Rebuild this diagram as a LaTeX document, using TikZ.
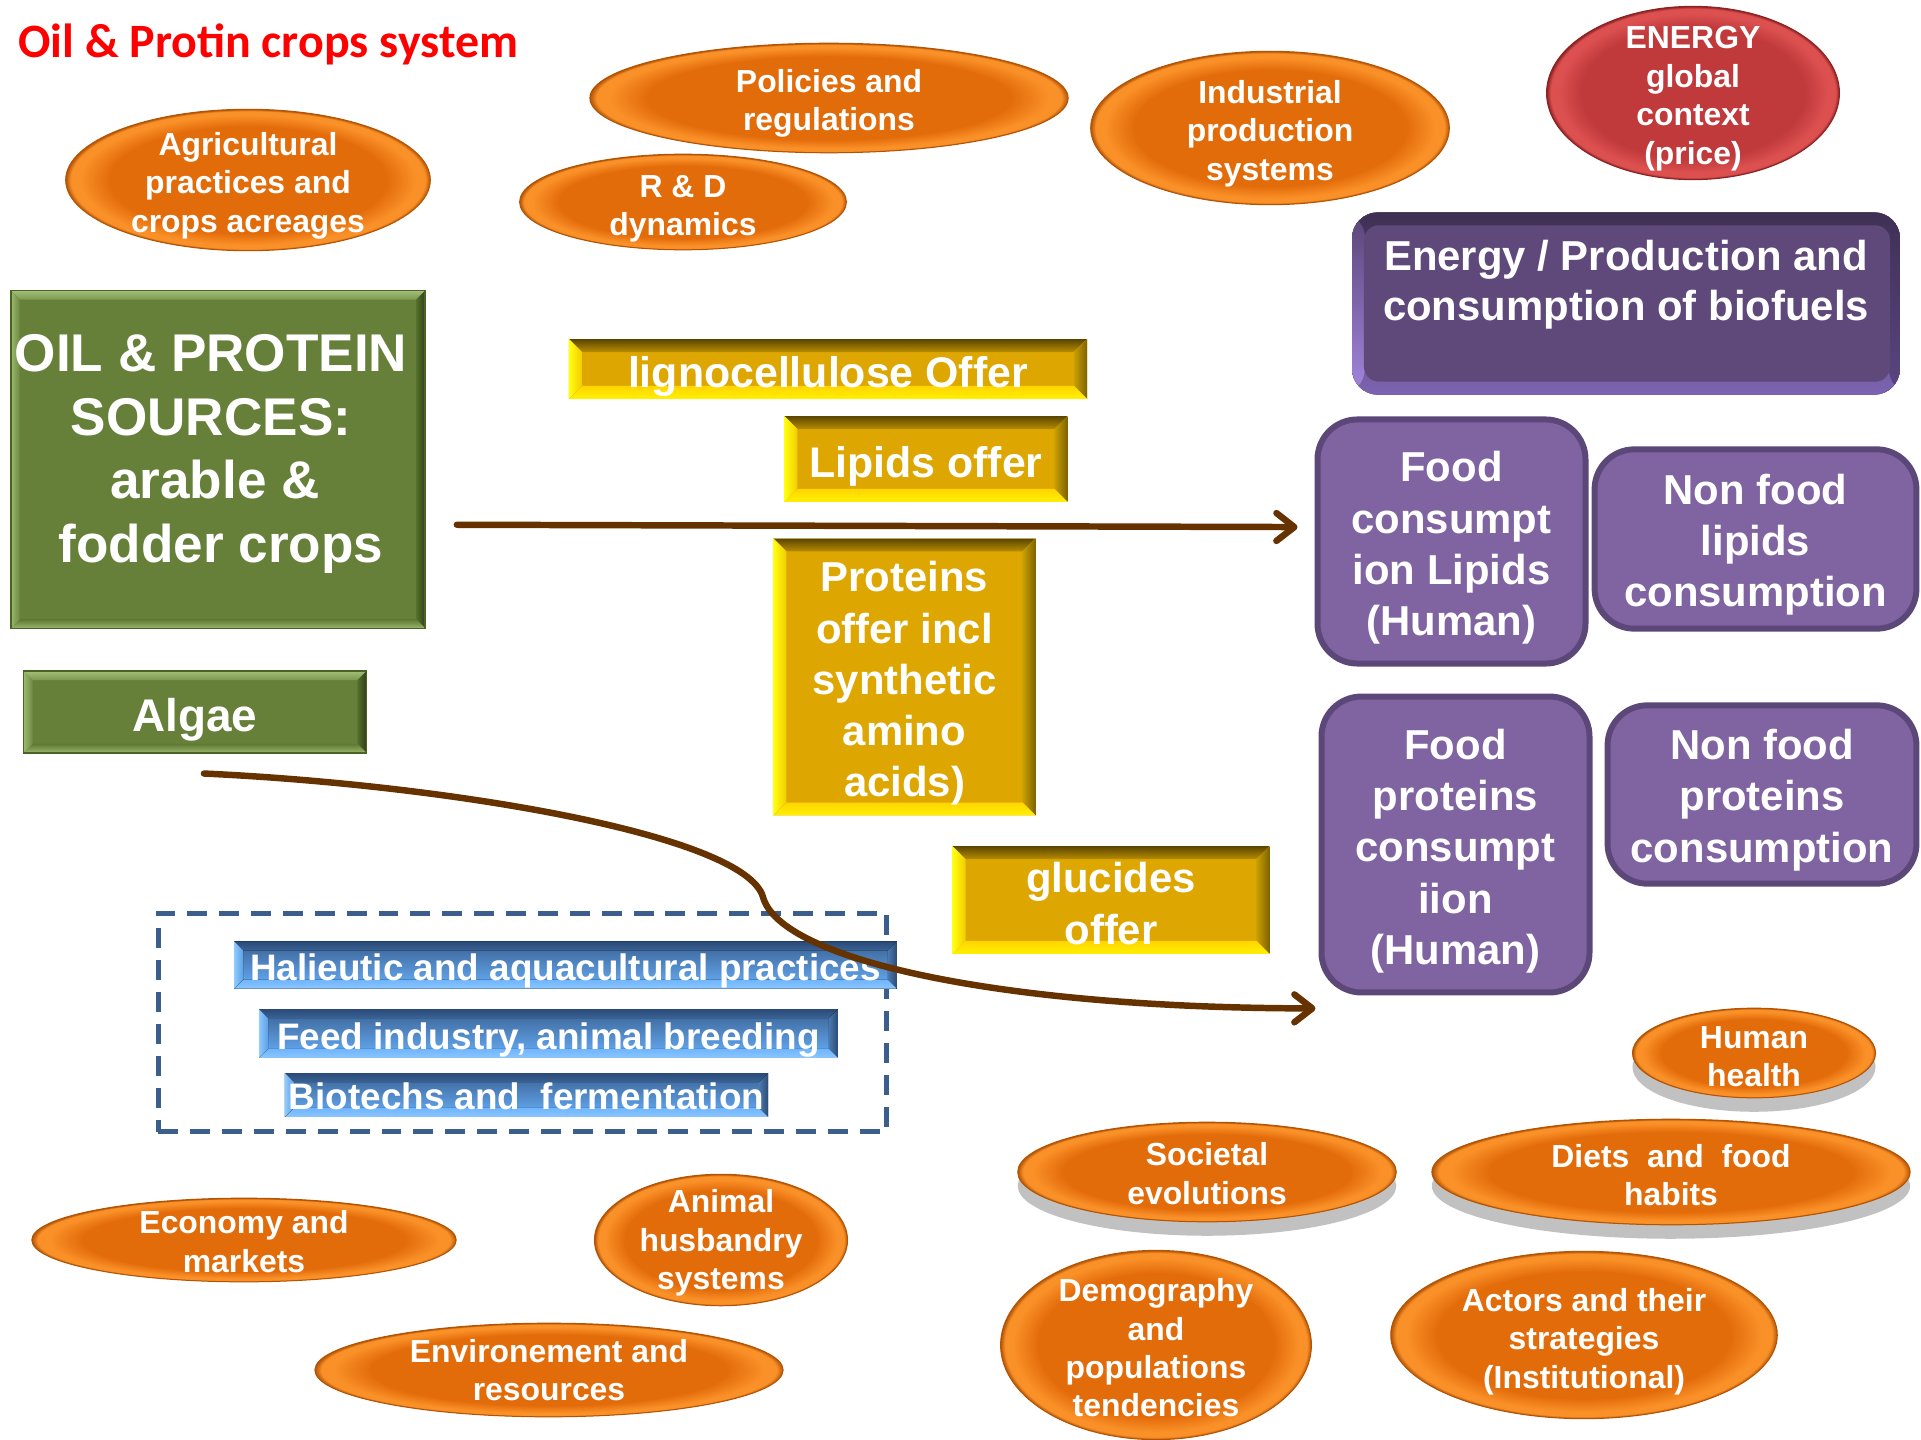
\documentclass[tikz,border=0pt]{standalone}
\usepackage{fontspec}
\setmainfont{Liberation Sans}
\newfontfamily\titlefont{Carlito}
\usetikzlibrary{shapes.geometric,arrows.meta,shadows,calc}

\definecolor{ocore}{HTML}{E36C0A}
\definecolor{olight}{HTML}{FA9028}
\definecolor{odark}{HTML}{B35405}
\definecolor{rcore}{HTML}{C0393B}
\definecolor{rlight}{HTML}{DC5050}
\definecolor{rdark}{HTML}{8C2222}
\definecolor{ybody}{HTML}{DDA600}
\definecolor{ytopA}{HTML}{5B4600}
\definecolor{ytopB}{HTML}{B88D00}
\definecolor{yrgtA}{HTML}{C9A000}
\definecolor{yrgtB}{HTML}{7E6200}
\definecolor{ybotA}{HTML}{FFD500}
\definecolor{ybotB}{HTML}{FFF000}
\definecolor{ylftA}{HTML}{FFFF10}
\definecolor{ylftB}{HTML}{F2CC00}
\definecolor{gbody}{HTML}{66803A}
\definecolor{gtopA}{HTML}{A3BE78}
\definecolor{gtopB}{HTML}{7C984E}
\definecolor{grgtA}{HTML}{55702D}
\definecolor{grgtB}{HTML}{2F4018}
\definecolor{gbotA}{HTML}{5E7832}
\definecolor{gbotB}{HTML}{9AB66C}
\definecolor{glftA}{HTML}{9BB86D}
\definecolor{glftB}{HTML}{6E8A42}
\definecolor{gdraw}{HTML}{4B6426}
\definecolor{bbodyT}{HTML}{3A6192}
\definecolor{bbodyB}{HTML}{68B0FA}
\definecolor{btopA}{HTML}{2A4A78}
\definecolor{btopB}{HTML}{3A6394}
\definecolor{brgtA}{HTML}{4A78B0}
\definecolor{brgtB}{HTML}{2C4B74}
\definecolor{bbotA}{HTML}{6FB5FF}
\definecolor{bbotB}{HTML}{8CC6FF}
\definecolor{blftA}{HTML}{8ECBFF}
\definecolor{blftB}{HTML}{5C9EE6}
\definecolor{dashc}{HTML}{3B5E8C}
\definecolor{arrowc}{HTML}{663300}
\definecolor{titlered}{HTML}{FF0000}
\definecolor{pfill}{HTML}{8064A2}
\definecolor{pdraw}{HTML}{5C4779}
\definecolor{ebody}{HTML}{5F497A}
\definecolor{etop}{HTML}{3D2F52}
\definecolor{ebot}{HTML}{7D64B2}
\definecolor{elftA}{HTML}{5A4578}
\definecolor{elftB}{HTML}{A286DE}
\definecolor{ergtA}{HTML}{3E3055}
\definecolor{ergtB}{HTML}{5A4680}

\pgfdeclareradialshading{orangering}{\pgfpoint{0bp}{0bp}}{color(0bp)=(ocore); color(19bp)=(ocore); color(23bp)=(olight); color(24.3bp)=(olight); color(25bp)=(odark); color(50bp)=(odark)}
\pgfdeclareradialshading{redring}{\pgfpoint{0bp}{0bp}}{color(0bp)=(rcore); color(19bp)=(rcore); color(23bp)=(rlight); color(24.3bp)=(rlight); color(25bp)=(rdark); color(50bp)=(rdark)}

% invisible strut on the first line: lowers the text block by about #1/2
\newcommand\tp[1]{\rule{0pt}{\dimexpr0.75em+#1pt\relax}}

\newcommand\bevelpic[5]{%
  \coordinate (bNW) at (path picture bounding box.north west);
  \coordinate (bNE) at (path picture bounding box.north east);
  \coordinate (bSE) at (path picture bounding box.south east);
  \coordinate (bSW) at (path picture bounding box.south west);
  \fill[#2] (bNW) -- (bNE) -- ([xshift=-#1pt,yshift=-#1pt]bNE) -- ([xshift=#1pt,yshift=-#1pt]bNW) -- cycle;
  \fill[#3] (bNE) -- (bSE) -- ([xshift=-#1pt,yshift=#1pt]bSE) -- ([xshift=-#1pt,yshift=-#1pt]bNE) -- cycle;
  \fill[#4] (bSE) -- (bSW) -- ([xshift=#1pt,yshift=#1pt]bSW) -- ([xshift=-#1pt,yshift=#1pt]bSE) -- cycle;
  \fill[#5] (bSW) -- (bNW) -- ([xshift=#1pt,yshift=-#1pt]bNW) -- ([xshift=#1pt,yshift=#1pt]bSW) -- cycle;
}

\tikzset{
  txt/.style={text=white, align=center, inner sep=0pt},
  oval/.style={txt, shape=ellipse, inner sep=-40pt, shade, shading=orangering, draw=odark, line width=1pt,
    font=\fontsize{32}{38.6}\selectfont\bfseries},
  redoval/.style={oval, shading=redring, draw=rdark, font=\fontsize{32}{38.8}\selectfont\bfseries},
  shadowed/.style={drop shadow={shadow xshift=0pt, shadow yshift=-14pt, opacity=.4, fill=black!60}},
  purpbox/.style={txt, rectangle, rounded corners=40pt, fill=pfill, draw=pdraw, line width=6pt,
    font=\fontsize{42}{51.5}\selectfont\bfseries},
  ybox/.style={txt, rectangle, fill=ybody, font=\fontsize{42}{51.5}\selectfont\bfseries,
    path picture={\bevelpic{13}{top color=ytopA,bottom color=ytopB}{left color=yrgtA,right color=yrgtB}{top color=ybotA,bottom color=ybotB}{left color=ylftA,right color=ylftB}}},
  gbox/.style={txt, rectangle, fill=gbody, draw=gdraw, line width=1.5pt,
    path picture={\bevelpic{9}{top color=gtopA,bottom color=gtopB}{left color=grgtA,right color=grgtB}{top color=gbotA,bottom color=gbotB}{left color=glftA,right color=glftB}}},
  bbar/.style={txt, rectangle, top color=bbodyT, bottom color=bbodyB, font=\fontsize{37}{44}\selectfont\bfseries,
    path picture={\bevelpic{9}{top color=btopA,bottom color=btopB}{left color=brgtA,right color=brgtB}{top color=bbotA,bottom color=bbotB}{left color=blftA,right color=blftB}}},
  dashbox/.style={rectangle, draw=dashc, line width=5pt, dash pattern=on 20pt off 12pt},
  ebox/.style={rectangle, rounded corners=26pt, fill=ebody,
    path picture={
      \coordinate (eNW) at (path picture bounding box.north west);
      \coordinate (eNE) at (path picture bounding box.north east);
      \coordinate (eSE) at (path picture bounding box.south east);
      \coordinate (eSW) at (path picture bounding box.south west);
      \fill[top color=etop, bottom color=ebot] (eNW) rectangle (eSE);
      \fill[top color=elftA, bottom color=elftB] (eNW) rectangle ([xshift=13pt]eSW);
      \fill[top color=ergtA, bottom color=ergtB] ([xshift=-11pt]eNE) rectangle (eSE);
      \fill[ebody, rounded corners=15pt] ([xshift=12pt,yshift=-13pt]eNW) rectangle ([xshift=-10pt,yshift=13pt]eSE);
    }},
  flow/.style={draw=arrowc, line width=6.5pt, line cap=round, -{Straight Barb[length=18pt,width=28pt,round]}}
}

\begin{document}
\begin{tikzpicture}[x=1bp,y=-1bp]
\useasboundingbox (0,0) rectangle (1921,1440);
\fill[white] (0,0) rectangle (1921,1440);

% title
\node[anchor=base west, inner sep=0pt, text=titlered, font=\titlefont\fontsize{48.1}{57}\selectfont\bfseries] (title) at (18,58) {Oil \& Protin crops system};

% top ellipses
\node[oval, minimum width=366, minimum height=142] (agri) at (248,180) {\tp{10}Agricultural\\practices and\\crops acreages};
\node[oval, minimum width=480, minimum height=110] (pol) at (829,98) {\tp{10}Policies and\\regulations};
\node[oval, minimum width=328, minimum height=96] (rd) at (683,202) {\tp{12}R \& D\\dynamics};
\node[oval, minimum width=360, minimum height=154] (ind) at (1270,128) {\tp{10}Industrial\\production\\systems};
\node[redoval, minimum width=294, minimum height=174] (energy) at (1693,93) {\tp{10}ENERGY\\global\\context\\(price)};

% energy / biofuels box
\node[ebox, minimum width=550, minimum height=183] (bio) at (1626,303.5) {};
\node[txt, font=\fontsize{42}{50}\selectfont\bfseries] (biotext) at (1626,284.5) {Energy / Production and\\consumption of biofuels};

% green sources
\node[gbox, minimum width=416, minimum height=339] (oil) at (218,459.5) {};
\node[txt, font=\fontsize{53.3}{64}\selectfont\bfseries] (oiltext) at (211,454) {OIL \& PROTEIN\\SOURCES:\\\hspace*{8pt}arable \&\\\hspace*{20pt}fodder crops};
\node[gbox, minimum width=344, minimum height=82, font=\fontsize{46}{55}\selectfont\bfseries] (algae) at (195,712) {\tp{14}Algae};

% yellow offers
\node[ybox, minimum width=520, minimum height=60, font=\fontsize{43}{51.5}\selectfont\bfseries] (ligno) at (828,369) {\tp{14}lignocellulose Offer};
\node[ybox, minimum width=284, minimum height=86, font=\fontsize{43}{51.5}\selectfont\bfseries] (lipoffer) at (926,459) {\tp{14}Lipids offer};
\node[ybox, minimum width=263, minimum height=278] (protoffer) at (904.5,677) {\tp{12}Proteins\\offer incl\\synthetic\\amino\\acids)};
\node[ybox, minimum width=318, minimum height=108, font=\fontsize{42}{53}\selectfont\bfseries] (gluc) at (1111,900) {\tp{6}glucides\\offer};

% purple consumption boxes
\node[purpbox, minimum width=269, minimum height=245] (foodlip) at (1451.5,541.5) {\tp{12}Food\\consumpt\\ion Lipids\\(Human)};
\node[purpbox, minimum width=323, minimum height=180] (nflip) at (1755.5,539) {\tp{10}Non food\\lipids\\consumption};
\node[purpbox, minimum width=269, minimum height=297] (foodprot) at (1455.5,844.5) {\tp{12}Food\\proteins\\consumpt\\iion\\(Human)};
\node[purpbox, minimum width=310, minimum height=179] (nfprot) at (1762,794.5) {\tp{10}Non food\\proteins\\consumption};

% dashed group with blue bars
\node[dashbox, minimum width=731, minimum height=219] (group) at (522.5,1022.5) {};
\node[bbar, minimum width=665, minimum height=46] (hal) at (565.5,965) {\tp{12}Halieutic and aquacultural practices};
\node[bbar, minimum width=581, minimum height=49] (feed) at (548.5,1033.5) {\tp{12}Feed industry, animal breeding};
\node[bbar, minimum width=485, minimum height=44] (biotech) at (526.5,1095) {\tp{2}Biotechs and\ \ fermentation};

% bottom ellipses
\node[oval, shadowed, minimum width=244, minimum height=90] (health) at (1754,1053) {\tp{5}Human\\health};
\node[oval, shadowed, minimum width=380, minimum height=100] (soc) at (1207,1172) {\tp{2}Societal\\evolutions};
\node[oval, shadowed, minimum width=480, minimum height=106] (diets) at (1671,1172) {\tp{5}Diets\ \ and\ \ food\\habits};
\node[oval, minimum width=426, minimum height=84] (econ) at (244,1240) {\tp{2}Economy and\\markets};
\node[oval, minimum width=254, minimum height=132] (animal) at (721,1240) {\tp{5}Animal\\husbandry\\systems};
\node[oval, minimum width=470, minimum height=94] (env) at (549,1370) {Environement and\\resources};
\node[oval, minimum width=312, minimum height=190] (demo) at (1156,1345) {\tp{5}Demography\\and\\populations\\tendencies};
\node[oval, minimum width=388, minimum height=168] (actors) at (1584,1335) {\tp{12}Actors and their\\strategies\\(Institutional)};

% connectors
\coordinate (a1s) at ([xshift=31pt,yshift=-65.5pt]oil.east);
\coordinate (a1e) at ([xshift=-17pt,yshift=14.5pt]foodlip.west);
\draw[flow] (a1s) -- (a1e);

\coordinate (a2s) at ([xshift=9pt,yshift=-20pt]algae.south);
\coordinate (a2e) at ([xshift=-3pt,yshift=-13pt]foodprot.south west);
\draw[flow] (a2s) .. controls (450,785) and (745,835) .. (763,897)
                  .. controls (780,960) and (1000,1008) .. (a2e);
\end{tikzpicture}
\end{document}
